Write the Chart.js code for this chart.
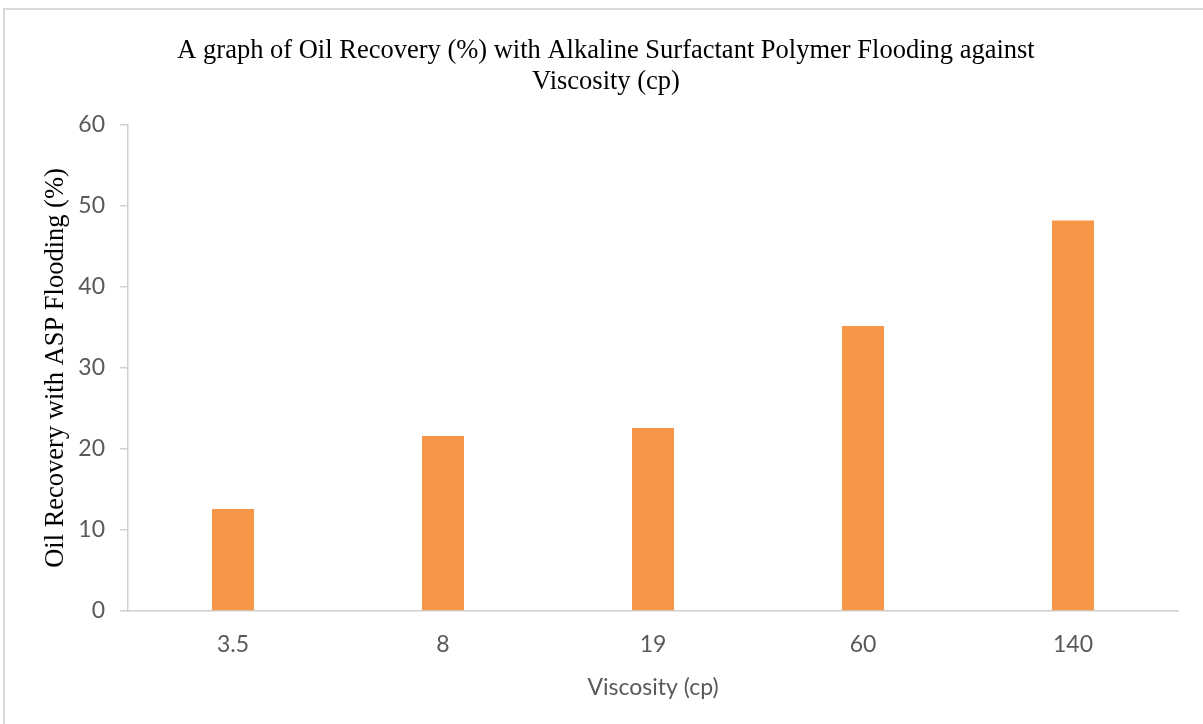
<!DOCTYPE html>
<html>
<head>
<meta charset="utf-8">
<title>Oil Recovery with ASP Flooding vs Viscosity</title>
<script src="https://cdn.jsdelivr.net/npm/chart.js@4.4.1/dist/chart.umd.min.js"></script>
<style>
    html, body { margin: 0; padding: 0; background: #ffffff; overflow: hidden; }
    #wrap { position: relative; width: 1203px; height: 724px; }
    #frame {
        position: absolute; left: 3px; top: 8px; width: 1300px; height: 800px;
        border: 2px solid #d9d9d9; box-sizing: border-box;
    }
    #chart { position: absolute; left: 0; top: 0; }
</style>
</head>
<body>
<div id="wrap">
    <div id="frame"></div>
    <canvas id="chart" width="1203" height="724"></canvas>
</div>
<script>
// chart data
const viscosityLabels = ['3.5', '8', '19', '60', '140'];
const oilRecovery = [12.6, 21.6, 22.6, 35.2, 48.2];
const yTicks = [0, 10, 20, 30, 40, 50, 60];

const chartTitle = ['A graph of Oil Recovery (%) with Alkaline Surfactant Polymer Flooding against', 'Viscosity (cp)'];
const xTitle = 'Viscosity (cp)';
const yTitle = 'Oil Recovery with ASP Flooding (%)';

const axisGray = '#d0d0d0';
const tickGray = '#595959';
const serif = '"Liberation Serif", "Times New Roman", serif';
const sans = 'Lato, "Open Sans", sans-serif';

document.addEventListener("DOMContentLoaded", function() {
    const ctx = document.getElementById('chart').getContext('2d');

    new Chart(ctx, {
        type: 'bar',
        data: {
            labels: viscosityLabels,
            datasets: [{
                label: 'Oil Recovery',
                data: oilRecovery,
                backgroundColor: '#f79646',
                borderWidth: 0,
                barPercentage: 0.2,
                categoryPercentage: 1.0
            }]
        },
        options: {
            responsive: false,
            animation: false,
            layout: {
                // left padding nudges the centred title to where the original sits
                padding: { left: 34, right: 25, top: 0, bottom: 0 }
            },
            plugins: {
                legend: { display: false },
                tooltip: { enabled: false },
                title: {
                    display: true,
                    text: chartTitle,
                    color: '#000000',
                    font: { family: serif, size: 26.5, weight: 'normal', lineHeight: 1.17 },
                    padding: { top: 35.5, bottom: 27.5 }
                }
            },
            scales: {
                x: {
                    grid: { display: false, drawTicks: false },
                    border: { display: true, color: axisGray, width: 1.5 },
                    ticks: {
                        color: tickGray,
                        font: { family: sans, size: 23 },
                        padding: 20
                    },
                    title: {
                        display: true,
                        text: xTitle,
                        color: tickGray,
                        font: { family: sans, size: 23 },
                        padding: { top: 0, bottom: 23 }
                    },
                    afterFit: function(scale) { scale.height = 113; }
                },
                y: {
                    min: 0,
                    max: 60,
                    afterBuildTicks: function(scale) {
                        scale.ticks = yTicks.map(v => ({ value: v }));
                    },
                    grid: {
                        drawOnChartArea: false,
                        drawTicks: true,
                        tickLength: 8,
                        color: axisGray,
                        lineWidth: 1.5
                    },
                    border: { display: true, color: axisGray, width: 1.5 },
                    ticks: {
                        color: tickGray,
                        font: { family: sans, size: 23 },
                        padding: 15
                    },
                    title: {
                        display: true,
                        text: yTitle,
                        color: '#000000',
                        font: { family: serif, size: 26.5 },
                        padding: { top: 6, bottom: 0 }
                    },
                    afterFit: function(scale) { scale.width = 94; }
                }
            }
        }
    });
});
</script>
</body>
</html>
